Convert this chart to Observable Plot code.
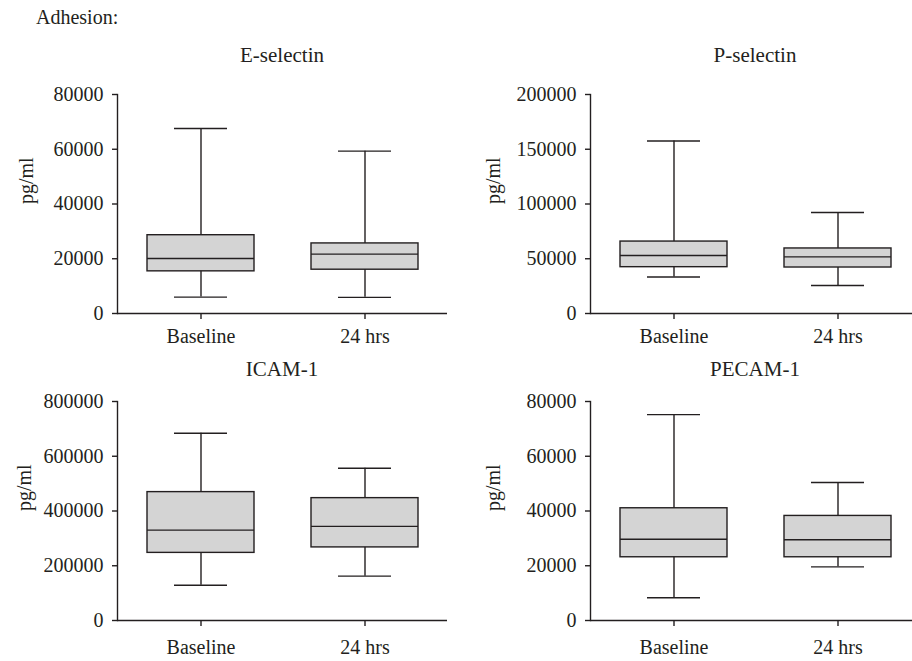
<!DOCTYPE html>
<html>
<head>
<meta charset="utf-8">
<script src="https://cdn.jsdelivr.net/npm/d3@7"></script>
<script src="https://cdn.jsdelivr.net/npm/@observablehq/plot@0.6"></script>
<style>
  html, body { margin: 0; padding: 0; background: #fff; overflow: hidden; }
  #wrap { position: relative; width: 912px; height: 661px; overflow: hidden; font-family: "Liberation Serif", "Times New Roman", serif; color: #231f20; }
  .lbl { position: absolute; font-size: 20px; line-height: 20px; white-space: nowrap; }
  .ttl { position: absolute; font-size: 21px; line-height: 20px; white-space: nowrap; transform: translateX(-50%); }
  .pnl { position: absolute; width: 480px; }
  .pnl svg { max-width: none !important; font-family: "Liberation Serif", "Times New Roman", serif !important; font-size: 20px !important; background: transparent !important; overflow: visible !important; color: #231f20; }
  .pnl svg text { font-family: "Liberation Serif", "Times New Roman", serif !important; font-size: 20px !important; }
</style>
</head>
<body>
<div id="wrap"></div>
<script>
// ---- data (min, Q1, median, Q3, max) ----
const categories = ["Baseline", "24 hrs"];
const sectionTitle = "Adhesion:";
const panelTitles = ["E-selectin", "P-selectin", "ICAM-1", "PECAM-1"];
const yLabel = "pg/ml";

const eSelectinBaseline = [6000, 15400, 20100, 28600, 67600];
const eSelectin24h      = [5900, 16000, 21700, 25600, 59300];
const pSelectinBaseline = [33400, 42300, 53000, 65700, 157600];
const pSelectin24h      = [25600, 42000, 51700, 59400, 92200];
const icam1Baseline     = [129000, 247000, 330000, 469000, 684000];
const icam124h          = [162000, 267000, 344000, 447000, 556000];
const pecam1Baseline    = [8300, 23100, 29700, 41000, 75200];
const pecam124h         = [19600, 23100, 29500, 38200, 50400];

const eSelectinTicks = [0, 20000, 40000, 60000, 80000];
const pSelectinTicks = [0, 50000, 100000, 150000, 200000];
const icam1Ticks     = [0, 200000, 400000, 600000, 800000];
const pecam1Ticks    = [0, 20000, 40000, 60000, 80000];

// ---- helpers ----
function rows(a, b) {
  return [a, b].map((v, i) => ({cat: categories[i], min: v[0], q1: v[1], median: v[2], q3: v[3], max: v[4]}));
}

const INK = "#231f20";
const SW = 1.4;

function panel(data, ticks, cfg) {
  const plot = Plot.plot({
    width: cfg.width,
    height: cfg.height,
    marginLeft: cfg.ml,
    marginRight: cfg.mr,
    marginTop: cfg.mt,
    marginBottom: cfg.mb,
    style: {fontSize: "20px", color: INK},
    x: {domain: categories, paddingInner: 0.348, paddingOuter: 0.18, align: 0.5, label: null},
    y: {domain: [0, ticks[ticks.length - 1]], label: null},
    marks: [
      Plot.ruleX(data, {x: "cat", y1: "min", y2: "max", stroke: INK, strokeWidth: SW}),
      Plot.tickY(data, {x: "cat", y: "min", insetLeft: 27, insetRight: 27, stroke: INK, strokeWidth: SW}),
      Plot.tickY(data, {x: "cat", y: "max", insetLeft: 27, insetRight: 27, stroke: INK, strokeWidth: SW}),
      Plot.barY(data, {x: "cat", y1: "q1", y2: "q3", fill: "#d4d4d4", stroke: INK, strokeWidth: SW}),
      Plot.tickY(data, {x: "cat", y: "median", stroke: INK, strokeWidth: SW}),
      Plot.frame({anchor: "left", stroke: INK, strokeWidth: SW}),
      Plot.ruleY([0], {stroke: INK, strokeWidth: SW}),
      Plot.axisY({ticks: ticks, tickFormat: d3.format("d"), tickSize: 5, tickPadding: 9, label: null, stroke: INK, strokeWidth: SW}),
      Plot.axisX({tickSize: 6, tickPadding: cfg.xpad, label: null, stroke: INK, strokeWidth: SW}),
      Plot.text([yLabel], {text: d => d, frameAnchor: "left", dx: cfg.ylx, rotate: -90, fill: INK, fontSize: 20})
    ]
  });
  const d = document.createElement("div");
  d.className = "pnl";
  d.style.left = cfg.left + "px";
  d.style.top = cfg.top + "px";
  d.appendChild(plot);
  document.getElementById("wrap").appendChild(d);
}

function label(text, cls, x, y) {
  const d = document.createElement("div");
  d.className = cls;
  d.textContent = text;
  d.style.left = x + "px";
  d.style.top = y + "px";
  document.getElementById("wrap").appendChild(d);
}

label(sectionTitle, "lbl", 36, 7);
label(panelTitles[0], "ttl", 282, 45);
label(panelTitles[1], "ttl", 755, 45);
label(panelTitles[2], "ttl", 282, 359);
label(panelTitles[3], "ttl", 755, 359);

panel(rows(eSelectinBaseline, eSelectin24h), eSelectinTicks,
  {left: 0, top: 70, width: 460, height: 280, ml: 117, mr: 13, mt: 24, mb: 37, xpad: 9, ylx: -91});
panel(rows(pSelectinBaseline, pSelectin24h), pSelectinTicks,
  {left: 456, top: 70, width: 474, height: 280, ml: 134, mr: 10, mt: 24, mb: 37, xpad: 9, ylx: -97});
panel(rows(icam1Baseline, icam124h), icam1Ticks,
  {left: 0, top: 380, width: 460, height: 281, ml: 117, mr: 13, mt: 21, mb: 41, xpad: 13, ylx: -93});
panel(rows(pecam1Baseline, pecam124h), pecam1Ticks,
  {left: 456, top: 380, width: 474, height: 281, ml: 134, mr: 10, mt: 21, mb: 41, xpad: 13, ylx: -97});
</script>
</body>
</html>
